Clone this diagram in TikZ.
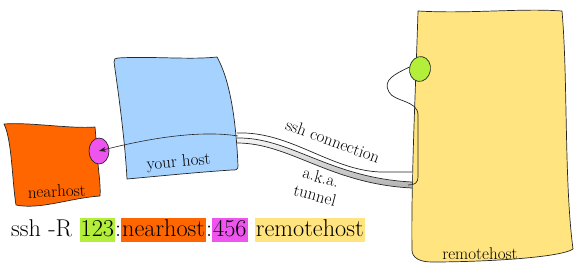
\documentclass[tikz,border=0pt]{standalone}
\usepackage{fontspec}
\usetikzlibrary{arrows.meta,shapes.geometric}
\definecolor{cOrange}{HTML}{FF6600}
\definecolor{cMag}{HTML}{EE55EE}
\definecolor{cBlue}{HTML}{A6D2FF}
\definecolor{cYellow}{HTML}{FFE47F}
\definecolor{cGreen}{HTML}{B2EE3A}
\newcommand\hlbox[2]{{\setlength{\fboxsep}{1pt}\colorbox{#1}{\vrule height 17pt depth 5pt width 0pt #2}}}
\begin{document}
\begin{tikzpicture}[x=1pt,y=-1pt,
  hostshape/.style={draw=black!85, line width=0.7pt, line join=round},
  lbl/.style={font=\fontsize{17}{15}\selectfont, text=black, inner sep=0pt},
  wire/.style={draw=black!85, line width=0.7pt},
  port/.style={draw=black!85, line width=0.7pt}]
\useasboundingbox (0,0) rectangle (579,268);
% remotehost
\path[hostshape, fill=cYellow] (418,11) .. controls (470,14) and (520,8) .. (562,11)
  .. controls (568,80) and (564,180) .. (573,249)
  .. controls (560,258) and (480,262) .. (432,262)
  .. controls (420,262) and (412,258) .. (412,250)
  .. controls (411,180) and (416,80) .. (418,11) -- cycle;
\node[lbl, anchor=base] (rlbl) at (480,259) {remotehost};
% nearhost
\path[hostshape, fill=cOrange] (4,124) .. controls (30,122) and (70,129) .. (95,127)
  -- (97,150) .. controls (98,170) and (101,185) .. (100,196)
  .. controls (70,198) and (40,210) .. (16,205)
  .. controls (12,180) and (12,140) .. (4,124) -- cycle;
\node[lbl, anchor=base, rotate=2] (nlbl) at (57,197) {nearhost};
% your host
\path[hostshape, fill=cBlue] (118,58) .. controls (150,56) and (190,60) .. (217,57)
  .. controls (230,80) and (236,120) .. (238,166)
  .. controls (238,170) and (236,170) .. (232,170)
  .. controls (200,172) and (160,176) .. (127,179)
  .. controls (125,140) and (118,90) .. (114,62)
  .. controls (114,59) and (115,58) .. (118,58) -- cycle;
\node[lbl, anchor=base, rotate=5] (ylbl) at (179,167) {your host};
% tunnel
\shade[top color=white, bottom color=black!30]
  (237,133) .. controls (290,131) and (330,170) .. (380,172) -- (412,172)
  -- (412,188) .. controls (330,184) and (290,143) .. (237,143) -- cycle;
\fill[white] (237,133) .. controls (290,131) and (330,170) .. (380,172) -- (412,172)
  -- (412,182) .. controls (330,178) and (290,137) .. (237,138) -- cycle;
\draw[wire] (237,133) .. controls (290,131) and (330,170) .. (380,172) -- (412,172);
\draw[wire] (237,138) .. controls (290,137) and (330,178) .. (412,182);
\draw[wire] (237,143) .. controls (290,143) and (330,184) .. (412,188);
% remote port and cable
\node[port, fill=cGreen, ellipse, minimum width=21pt, minimum height=25pt, inner sep=0pt, rotate=-10] (rport) at (420,69) {};
\coordinate (cableend) at (408,185);
\draw[wire] (rport.west) .. controls (395,74) and (382,80) .. (389,92)
  .. controls (394,102) and (418,100) .. (418,115) -- (418,176)
  .. controls (418,183) and (415,185) .. (cableend);
% near port
\node[port, fill=cMag, ellipse, minimum width=20pt, minimum height=26pt, inner sep=0pt] (nport) at (99,151) {};
\coordinate (tstart) at (238,136);
\draw[wire, line width=0.6pt, -{Stealth[length=7pt,width=5pt]}] (tstart) .. controls (200,130) and (150,138) .. (nport.center);
% labels
\node[lbl, rotate=-20] (sshlbl) at (333,141) {ssh connection};
\node[lbl, rotate=-15] (aka) at (321,177) {a.k.a.};
\node[lbl, rotate=-15] (tun) at (315,195) {tunnel};
% command
\node[anchor=base west, inner sep=0pt, font=\fontsize{24.3}{28}\selectfont, text=black] (cmd) at (11,236)
  {ssh -R \hlbox{cGreen}{123}:\hlbox{cOrange}{nearhost}:\hlbox{cMag}{456} \hlbox{cYellow}{remotehost}};
\end{tikzpicture}
\end{document}
